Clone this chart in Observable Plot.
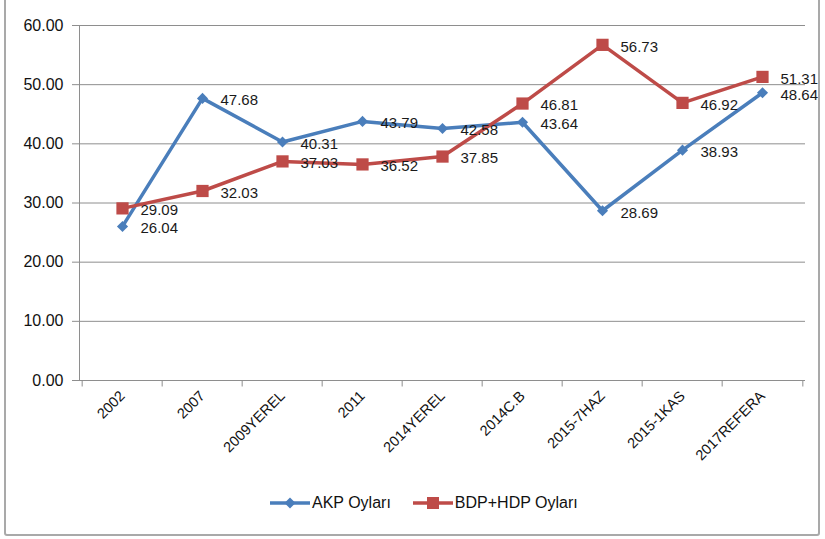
<!DOCTYPE html>
<html>
<head>
<meta charset="utf-8">
<script src="https://cdn.jsdelivr.net/npm/d3@7"></script>
<script src="https://cdn.jsdelivr.net/npm/@observablehq/plot@0.6"></script>
<style>
  html, body { margin: 0; padding: 0; background: #fff; }
  #wrap { position: relative; width: 825px; height: 539px; overflow: hidden; font-family: "Liberation Sans", Arial, sans-serif; }
  #chart { position: absolute; left: 0; top: 0; }
  #frame { position: absolute; left: 4px; top: -3px; width: 812px; height: 535px; border: 2px solid #a9a9a9; border-radius: 3px; pointer-events: none; }
  #legend { position: absolute; left: 270px; top: 494px; display: flex; align-items: center; font-size: 16px; color: #111; }
  #legend .item { display: flex; align-items: center; margin-right: 22px; }
  #legend svg { margin-right: 2px; }
</style>
</head>
<body>
<div id="wrap">
  <div id="chart"></div>
  <div id="legend"></div>
  <div id="frame"></div>
</div>
<script>
const categories = ["2002", "2007", "2009YEREL", "2011", "2014YEREL", "2014C.B", "2015-7HAZ", "2015-1KAS", "2017REFERA"];
const akpValues = [26.04, 47.68, 40.31, 43.79, 42.58, 43.64, 28.69, 38.93, 48.64];
const hdpValues = [29.09, 32.03, 37.03, 36.52, 37.85, 46.81, 56.73, 46.92, 51.31];
const seriesNames = ["AKP Oyları", "BDP+HDP Oyları"];
const yTicks = [0, 10, 20, 30, 40, 50, 60];

const blue = "#4a7ebb";
const red = "#be4b48";
const grid = "#8e8e8e";

const akpRows = categories.map((c, i) => ({cat: c, party: seriesNames[0], v: akpValues[i]}));
const hdpRows = categories.map((c, i) => ({cat: c, party: seriesNames[1], v: hdpValues[i]}));
const rows = akpRows.concat(hdpRows);

const W = 825, ML = 79, MR = 20;
const step = (W - ML - MR) / categories.length;

const chart = Plot.plot({
  width: W,
  height: 480,
  marginLeft: ML,
  marginRight: MR,
  marginTop: 25,
  marginBottom: 100,
  style: {fontFamily: "Liberation Sans, Arial, sans-serif", color: "#111", background: "transparent"},
  x: {type: "point", domain: categories, padding: 0.5, label: null},
  y: {domain: [0, 60], label: null},
  color: {domain: seriesNames, range: [blue, red]},
  marks: [
    Plot.ruleY(yTicks, {stroke: grid, strokeWidth: 1}),
    Plot.frame({anchor: "left", stroke: grid}),
    Plot.ruleX(categories, {x: d => d, y1: 0, y2: -1.1, dx: -step / 2, stroke: grid}),
    Plot.ruleX([categories[categories.length - 1]], {x: d => d, y1: 0, y2: -1.1, dx: step / 2, stroke: grid}),
    Plot.axisY({ticks: yTicks, tickFormat: d3.format(".2f"), tickSize: 7, tickPadding: 9, fontSize: 16, stroke: grid, label: null}),
    Plot.axisX({tickSize: 0, tickRotate: -45, tickPadding: 13, fontSize: 14.5, label: null}),
    Plot.line(rows, {x: "cat", y: "v", stroke: "party", strokeWidth: 3.5, z: "party"}),
    Plot.dot(akpRows, {x: "cat", y: "v", symbol: "diamond2", r: 5, fill: blue, stroke: "none"}),
    Plot.dot(hdpRows, {x: "cat", y: "v", symbol: "square", r: 6.9, fill: red, stroke: "none"}),
    Plot.text(rows, {x: "cat", y: "v", text: d => d.v.toFixed(2), textAnchor: "start", dx: 18, dy: 2, fontSize: 15, fill: "#1a1a1a"})
  ]
});
document.getElementById("chart").appendChild(chart);

// legend
const legend = document.getElementById("legend");
const legendSymbols = [
  `<svg width="40" height="14"><line x1="0" y1="7" x2="40" y2="7" stroke="${blue}" stroke-width="3.5"/><path d="M20 1.5 L25.5 7 L20 12.5 L14.5 7 Z" fill="${blue}"/></svg>`,
  `<svg width="40" height="14"><line x1="0" y1="7" x2="40" y2="7" stroke="${red}" stroke-width="3.5"/><rect x="14" y="1" width="12" height="12" fill="${red}"/></svg>`
];
seriesNames.forEach((name, i) => {
  const item = document.createElement("div");
  item.className = "item";
  item.innerHTML = legendSymbols[i] + `<span>${name}</span>`;
  legend.appendChild(item);
});
</script>
</body>
</html>
